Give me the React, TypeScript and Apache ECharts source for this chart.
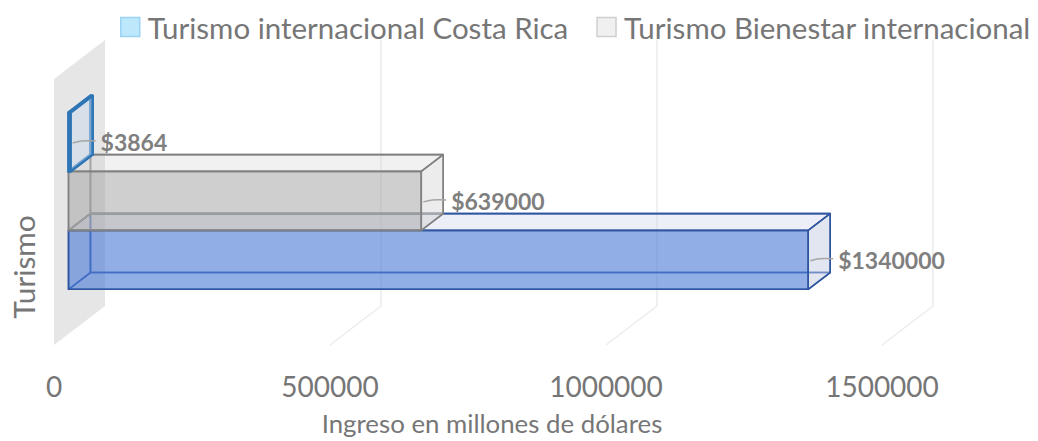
import React, { useEffect, useRef } from "react";
import * as echarts from "echarts";

const categories = ["Turismo"];
const seriesNames = ["Turismo internacional Costa Rica", "Turismo Bienestar internacional", "Serie3"];
const costaRicaValues = [3864];
const bienestarValues = [639000];
const serie3Values = [1340000];
const xTicks = [0, 500000, 1000000, 1500000];
const xAxisTitle = "Ingreso en millones de dólares";
const yAxisTitle = "Turismo";

const DX = 51;
const DY = -39;
const D1 = 0.285;
const D2 = 0.715;
const FONT = "Lato, 'Open Sans', sans-serif";

type BarStyle = {
  stroke: string;
  hidden: string;
  lineWidth: number;
  front: string;
  top: string;
  right: string;
};

function makeBarSeries(name: string, values: number[], k: number, st: BarStyle, legendFill: string) {
  return {
    type: "custom",
    name,
    silent: true,
    itemStyle: { color: legendFill, borderColor: st.stroke },
    data: values.map((v, i) => [v, i]),
    encode: { x: 0, y: 1 },
    renderItem: (params: any, api: any) => {
      const v = api.value(0);
      const ci = api.value(1);
      const s0 = api.coord([0, ci]);
      const xs = s0[0];
      const yc = s0[1];
      const xe = api.coord([v, ci])[0];
      const band = api.size([0, 1])[1];
      const bw = band * 0.2216;
      const yT = yc - 1.5 * bw + k * bw;
      const yB = yT + bw;
      const P = (x: number, y: number, d: number) => [x + DX * d, y + DY * d];
      const poly = (pts: number[][], fill: string, stroke: string, lw: number) => ({
        type: "polygon",
        shape: { points: pts },
        style: { fill, stroke, lineWidth: lw, lineJoin: "round" },
      });
      const ym = (yT + yB) / 2;
      const lf = P(xe, ym, D1);
      const backX = P(xe, ym, D2)[0];
      return {
        type: "group",
        children: [
          poly([P(xs, yT, D2), P(xe, yT, D2), P(xe, yB, D2), P(xs, yB, D2)], "none", st.hidden, st.lineWidth),
          poly([P(xs, yB, D1), P(xe, yB, D1), P(xe, yB, D2), P(xs, yB, D2)], "none", st.hidden, st.lineWidth),
          poly([P(xs, yT, D1), P(xs, yB, D1), P(xs, yB, D2), P(xs, yT, D2)], "none", st.hidden, st.lineWidth),
          poly([P(xs, yT, D1), P(xe, yT, D1), P(xe, yB, D1), P(xs, yB, D1)], st.front, st.stroke, st.lineWidth),
          poly([P(xs, yT, D1), P(xe, yT, D1), P(xe, yT, D2), P(xs, yT, D2)], st.top, st.stroke, st.lineWidth),
          poly([P(xe, yT, D1), P(xe, yB, D1), P(xe, yB, D2), P(xe, yT, D2)], st.right, st.stroke, st.lineWidth),
          {
            type: "polyline",
            shape: {
              points: [
                [lf[0] + 2, lf[1] + 1],
                [lf[0] + (backX - lf[0]) * 0.5, lf[1] - 1],
                [backX + 3, lf[1] - 1],
              ],
              smooth: 0.4,
            },
            style: { fill: "none", stroke: "#A6A6A6", lineWidth: 1.5 },
          },
          {
            type: "text",
            x: backX + 8,
            y: lf[1],
            style: {
              text: "$" + v,
              fill: "#7F7F7F",
              fontFamily: FONT,
              fontWeight: "bold",
              fontSize: 23,
              align: "left",
              verticalAlign: "middle",
            },
          },
        ],
      };
    },
  };
}

const wallSeries = {
  type: "custom",
  name: "walls",
  silent: true,
  data: [[0, 0]],
  encode: { x: 0, y: 1 },
  renderItem: (params: any, api: any) => {
    const c = api.coord([0, 0]);
    const band = api.size([0, 1])[1];
    const top = c[1] - band / 2;
    const bottom = c[1] + band / 2;
    const x0 = c[0];
    const children: any[] = [
      {
        type: "polygon",
        shape: {
          points: [
            [x0, top],
            [x0 + DX, top + DY],
            [x0 + DX, bottom + DY],
            [x0, bottom],
          ],
        },
        style: { fill: "#E6E6E6", stroke: "none" },
      },
    ];
    xTicks.slice(1).forEach((t) => {
      const xt = api.coord([t, 0])[0];
      children.push({
        type: "polyline",
        shape: {
          points: [
            [xt + DX, top + DY],
            [xt + DX, bottom + DY],
            [xt, bottom],
          ],
        },
        style: { fill: "none", stroke: "#ECECEC", lineWidth: 1.5 },
      });
    });
    return { type: "group", children };
  },
};

export default function App() {
  const ref = useRef<HTMLDivElement>(null);
  useEffect(() => {
    document.body.style.margin = "0";
    const chart = echarts.init(ref.current!, null, { renderer: "svg" });
    const option: any = {
      animation: false,
      backgroundColor: "#FFFFFF",
      legend: {
        left: 120,
        top: 12,
        width: 1000,
        padding: 0,
        icon: "rect",
        itemWidth: 19,
        itemHeight: 19,
        itemGap: 28,
        selectedMode: false,
        textStyle: { color: "#767676", fontFamily: FONT, fontSize: 29.5, padding: [0, 0, 0, 3] },
        data: [
          { name: seriesNames[0], itemStyle: { color: "#BDE7FB", borderColor: "#9CD3F5", borderWidth: 1.5 } },
          { name: seriesNames[1], itemStyle: { color: "#F0F0F0", borderColor: "#CFCFCF", borderWidth: 1.5 } },
        ],
      },
      grid: { left: 53, top: 79, width: 829, height: 268 },
      xAxis: {
        type: "value",
        min: 0,
        max: 1500000,
        interval: 500000,
        axisLine: { show: false },
        axisTick: { show: false },
        splitLine: { show: false },
        axisLabel: {
          color: "#767676",
          fontFamily: FONT,
          fontSize: 28,
          margin: 27,
          formatter: (v: number) => String(v),
        },
        name: xAxisTitle,
        nameLocation: "middle",
        nameGap: 78,
        nameTextStyle: {
          color: "#767676",
          fontFamily: FONT,
          fontSize: 25.8,
          verticalAlign: "middle",
          padding: [0, 0, 0, 48],
        },
      },
      yAxis: {
        type: "category",
        data: categories,
        axisLine: { show: false },
        axisTick: { show: false },
        axisLabel: { show: false },
        splitLine: { show: false },
        name: yAxisTitle,
        nameLocation: "middle",
        nameRotate: 90,
        nameGap: 31,
        nameTextStyle: {
          color: "#767676",
          fontFamily: FONT,
          fontSize: 29.8,
          verticalAlign: "middle",
          padding: [0, 110, 0, 0],
        },
      },
      series: [
        wallSeries,
        makeBarSeries(seriesNames[2], serie3Values, 2, {
          stroke: "#2F55A0",
          hidden: "#3A60AE",
          lineWidth: 1.6,
          front: "rgba(72,120,214,0.6)",
          top: "rgba(200,210,235,0.35)",
          right: "rgba(190,200,225,0.45)",
        }, "#8FAEE6"),
        makeBarSeries(seriesNames[1], bienestarValues, 1, {
          stroke: "#808080",
          hidden: "#9A9A9A",
          lineWidth: 1.6,
          front: "rgba(160,160,160,0.5)",
          top: "rgba(200,200,200,0.25)",
          right: "rgba(200,200,200,0.35)",
        }, "#F0F0F0"),
        makeBarSeries(seriesNames[0], costaRicaValues, 0, {
          stroke: "#2E75B6",
          hidden: "#2E75B6",
          lineWidth: 2.4,
          front: "rgba(200,215,235,0.5)",
          top: "rgba(200,215,235,0.5)",
          right: "rgba(200,215,235,0.5)",
        }, "#BDE7FB"),
      ],
    };
    chart.setOption(option);
    return () => chart.dispose();
  }, []);
  return <div ref={ref} style={{ width: 1038, height: 441 }} />;
}
